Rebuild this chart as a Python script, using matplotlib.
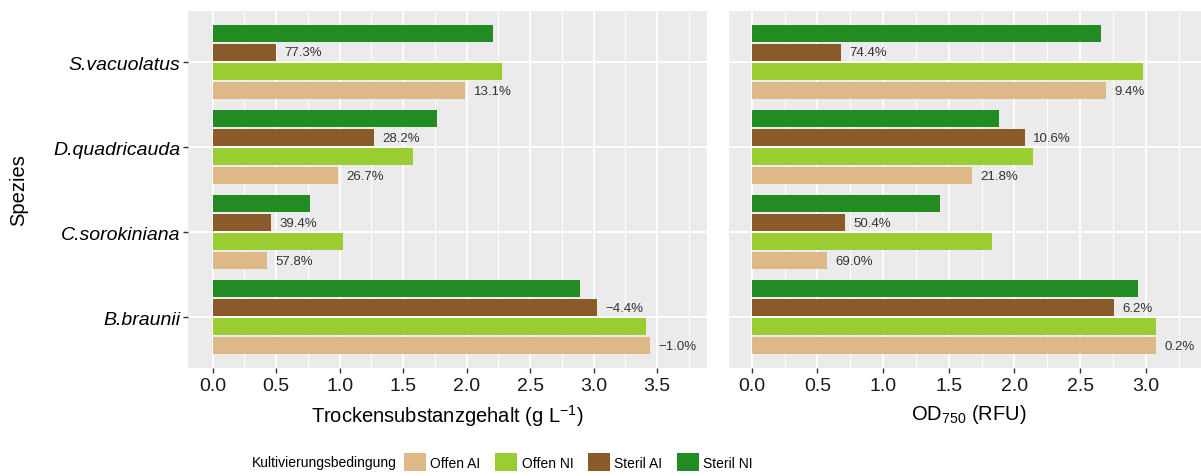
import numpy as np
import matplotlib.pyplot as plt
from matplotlib.patches import Patch

plt.rcParams['font.family'] = ['Liberation Sans', 'DejaVu Sans']
plt.rcParams['mathtext.fontset'] = 'custom'
plt.rcParams['mathtext.rm'] = 'Liberation Sans'
plt.rcParams['mathtext.it'] = 'Liberation Sans:italic'

species = ['B.braunii', 'C.sorokiniana', 'D.quadricauda', 'S.vacuolatus']
conditions = ['Offen AI', 'Offen NI', 'Steril AI', 'Steril NI']
colors = ['#DEB887', '#9ACD32', '#8B5A2B', '#228B22']

# Trockensubstanzgehalt (g/L), same order as species
dw_offen_ai = [3.44, 0.43, 0.99, 1.99]
dw_offen_ni = [3.41, 1.03, 1.575, 2.28]
dw_steril_ai = [3.03, 0.46, 1.27, 0.50]
dw_steril_ni = [2.89, 0.77, 1.765, 2.21]
dw_offen_pct = ['\u22121.0%', '57.8%', '26.7%', '13.1%']
dw_steril_pct = ['\u22124.4%', '39.4%', '28.2%', '77.3%']

# OD750 (RFU)
od_offen_ai = [3.078, 0.57, 1.68, 2.70]
od_offen_ni = [3.08, 1.83, 2.14, 2.98]
od_steril_ai = [2.76, 0.71, 2.08, 0.68]
od_steril_ni = [2.94, 1.43, 1.88, 2.66]
od_offen_pct = ['0.2%', '69.0%', '21.8%', '9.4%']
od_steril_pct = ['6.2%', '50.4%', '10.6%', '74.4%']


def draw_panel(ax, series, offen_pct, steril_pct, xlim, xmax_tick):
    y = np.arange(len(species))
    dodge = 0.225
    for i, (vals, c) in enumerate(zip(series, colors)):
        ax.barh(y + (i - 1.5) * dodge, vals, height=0.2, color=c, zorder=2)

    # percentage labels next to the AI bars
    for i, lbls in [(0, offen_pct), (2, steril_pct)]:
        for yy, v, t in zip(y, series[i], lbls):
            ax.annotate(t, (v, yy + (i - 1.5) * dodge), xytext=(6, 0),
                        textcoords='offset points', ha='left', va='center',
                        fontsize=9.5, color='#333333')

    ax.set_facecolor('#EBEBEB')
    ax.set_xlim(*xlim)
    ax.set_ylim(-0.6, 3.6)
    ax.set_xticks(np.arange(0, xmax_tick + 0.01, 0.5))
    ax.set_xticks(np.arange(0.25, xlim[1], 0.5), minor=True)
    ax.set_xticklabels([f'{v:.1f}' for v in np.arange(0, xmax_tick + 0.01, 0.5)])
    ax.set_yticks(y)
    ax.grid(which='major', color='white', linewidth=1.3, zorder=0)
    ax.grid(which='minor', axis='x', color='white', linewidth=0.7, zorder=0)
    ax.set_axisbelow(True)
    for s in ax.spines.values():
        s.set_visible(False)
    ax.tick_params(axis='x', which='major', labelsize=14, labelcolor='#1a1a1a',
                   color='#333333', length=3.5, width=1, pad=3)
    ax.tick_params(axis='x', which='minor', length=0)


fig = plt.figure(figsize=(12.01, 4.77), dpi=100)
W, H = 1201, 477
bottom = (H - 369.3) / H
height = (369.3 - 12) / H

ax1 = fig.add_axes([188.3 / W, bottom, (706.7 - 188.3) / W, height])
ax2 = fig.add_axes([729.3 / W, bottom, (W - 729.3) / W, height])

draw_panel(ax1, [dw_offen_ai, dw_offen_ni, dw_steril_ai, dw_steril_ni],
           dw_offen_pct, dw_steril_pct, (-0.192, 3.89), 3.5)
draw_panel(ax2, [od_offen_ai, od_offen_ni, od_steril_ai, od_steril_ni],
           od_offen_pct, od_steril_pct, (-0.171, 3.42), 3.0)

ax1.set_yticklabels(species, fontstyle='italic', fontsize=14, color='black')
ax1.tick_params(axis='y', color='#333333', length=3.5, width=1, pad=2)
ax2.tick_params(axis='y', length=0, labelleft=False)

ax1.set_xlabel('Trockensubstanzgehalt (g L$^{\u22121}$)', fontsize=14.5)
ax2.set_xlabel('OD$_{750}$ (RFU)', fontsize=14.5)
ax1.xaxis.set_label_coords(0.5, -0.095)
ax2.xaxis.set_label_coords((969 - 729.3) / (W - 729.3), -0.095)

fig.text(19 / W, 1 - 190.5 / H, 'Spezies', rotation=90, fontsize=14.5,
         ha='center', va='center')

# legend at the bottom
leg_y = 1 - 463 / H
fig.text(252 / W, leg_y, 'Kultivierungsbedingung', fontsize=10,
         ha='left', va='center')
handles = [Patch(facecolor=c, edgecolor='none') for c in colors]
fig.legend(handles, conditions, loc='center left',
           bbox_to_anchor=(404 / W, leg_y), ncol=4, frameon=False, fontsize=10,
           handlelength=1.6, handleheight=1.6, handletextpad=0.3,
           columnspacing=1.05, borderpad=0, borderaxespad=0)

fig.savefig('out.png', dpi=100)
